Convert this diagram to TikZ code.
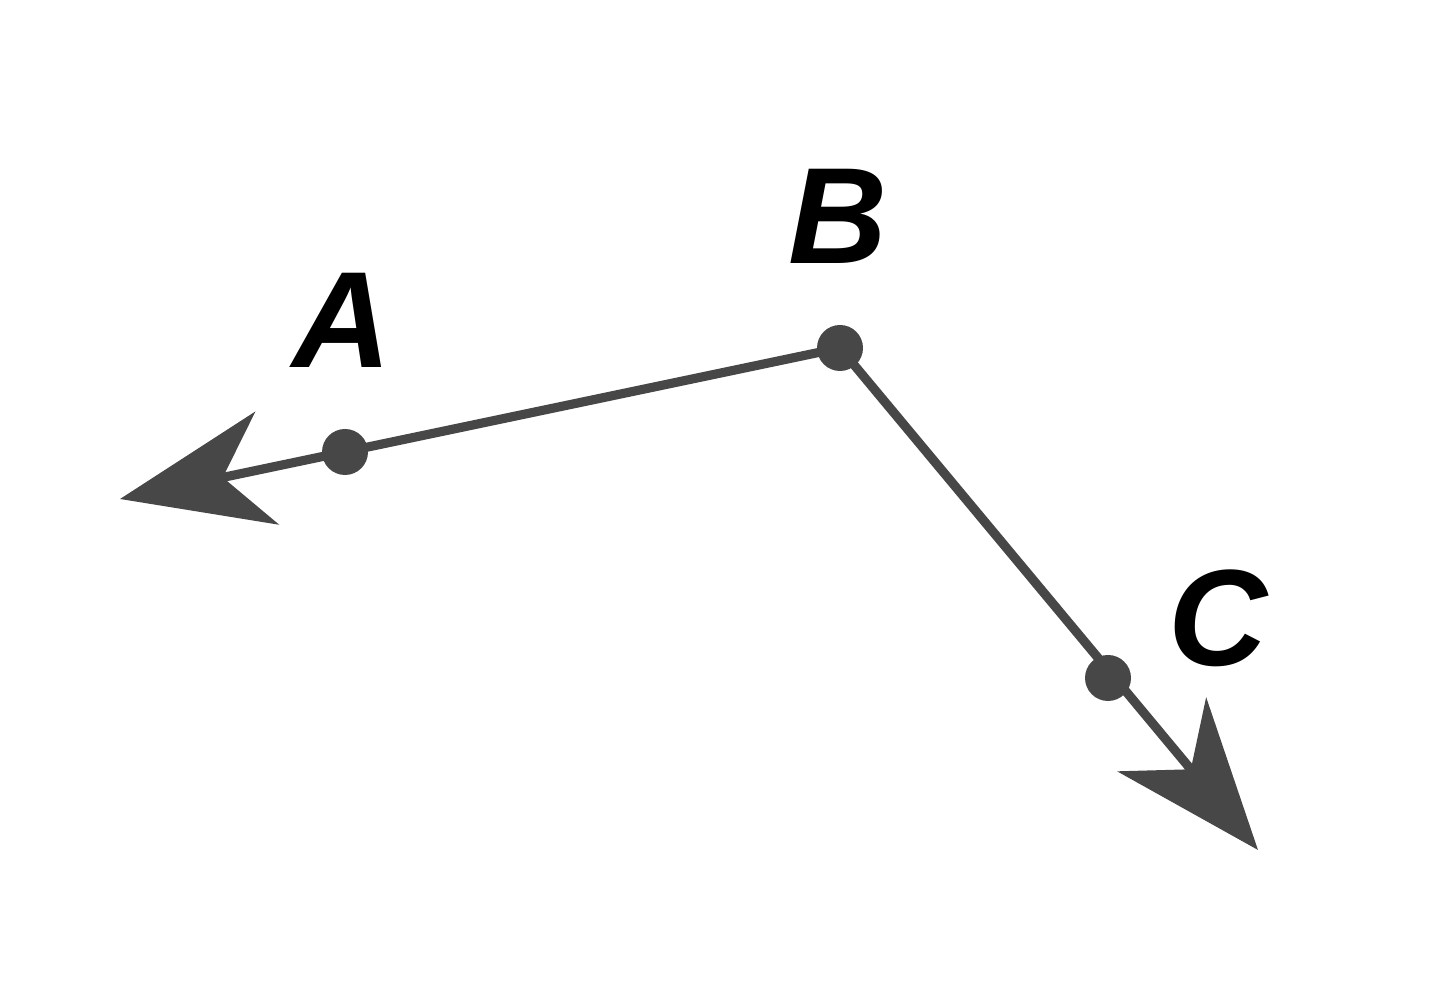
\documentclass[tikz,border=0pt]{standalone}
\usepackage{fontspec}
\setmainfont{Liberation Sans}
\usetikzlibrary{arrows.meta}

\begin{document}
\begin{tikzpicture}[line width=2.6pt, color=black!72,
  dot/.style={draw=none,fill=black!72,circle,inner sep=0,minimum size=4.6mm},
  lbl/.style={text=black,font=\fontsize{39}{44}\selectfont\bfseries\itshape},
  ray/.style={-{Stealth[length=15mm,width=11.5mm,inset=4.5mm]}}]
\useasboundingbox (0,0) rectangle (14.4,9.96);

\coordinate (pa) at (3.45,5.44);
\coordinate (pb) at (8.40,6.48);
\coordinate (pc) at (11.08,3.18);
\coordinate (tip-a) at (1.20,4.97);
\coordinate (tip-c) at (12.58,1.46);

\draw[ray] (pb) -- (tip-a);
\draw[ray] (pb) -- (tip-c);

\node[dot] (A) at (pa) {};
\node[dot] (B) at (pb) {};
\node[dot] (C) at (pc) {};

\node[lbl] at (3.42,6.76) {A};
\node[lbl] at (8.38,7.80) {B};
\node[lbl] at (12.18,3.78) {C};
\end{tikzpicture}
\end{document}
